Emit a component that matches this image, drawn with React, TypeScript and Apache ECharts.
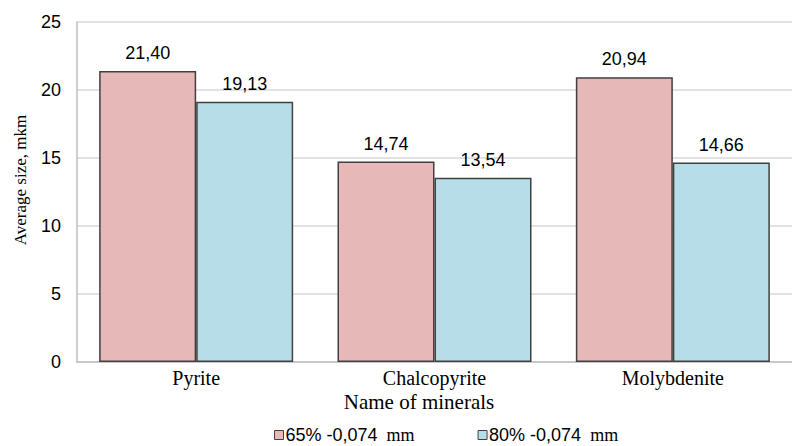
import React, { useEffect, useRef } from "react";
import * as echarts from "echarts";

const categories = ["Pyrite", "Chalcopyrite", "Molybdenite"];
const series65 = [21.4, 14.74, 20.94];
const series80 = [19.13, 13.54, 14.66];
const seriesNames = ["65% -0,074", "80% -0,074"];
const legendUnit = "mm";
const yTicks = [0, 5, 10, 15, 20, 25];
const yTitle = "Average size, mkm";
const xTitle = "Name of minerals";

export default function App() {
  const ref = useRef<HTMLDivElement>(null);
  useEffect(() => {
    if (!ref.current) return;
    const chart = echarts.init(ref.current, null, { renderer: "svg" });
    const labelCfg = {
      show: true,
      position: "top",
      distance: 9,
      color: "#000",
      fontFamily: "Liberation Sans",
      fontSize: 18,
      formatter: (p: any) => p.value.toFixed(2).replace(".", ","),
    };
    chart.setOption({
      animation: false,
      backgroundColor: "#fff",
      grid: { left: 77, top: 22, right: -8, bottom: 84 },
      legend: {
        left: 274,
        top: 426,
        padding: 0,
        icon: "rect",
        itemWidth: 9,
        itemHeight: 9,
        itemGap: 63,
        itemStyle: { borderColor: "#404040", borderWidth: 1 },
        formatter: (name: string) => `{a|${name}}{b|  ${legendUnit}}`,
        textStyle: {
          padding: [0, 0, 0, -3],
          rich: {
            a: { fontFamily: "Liberation Sans", fontSize: 18, color: "#000", lineHeight: 18 },
            b: { fontFamily: "Liberation Serif", fontSize: 18, color: "#000", lineHeight: 18 },
          },
        },
        data: seriesNames,
      },
      xAxis: {
        type: "category",
        data: categories,
        axisLine: { show: true, lineStyle: { color: "#bfbfbf", width: 1.5 } },
        axisTick: { show: false },
        axisLabel: { fontFamily: "Liberation Serif", fontSize: 20, color: "#000", margin: 6 },
      },
      yAxis: {
        type: "value",
        min: yTicks[0],
        max: yTicks[yTicks.length - 1],
        interval: yTicks[1] - yTicks[0],
        axisLine: { show: true, lineStyle: { color: "#bfbfbf", width: 1.5 } },
        axisTick: { show: false },
        splitLine: { lineStyle: { color: "#d9d9d9", width: 1.5 } },
        axisLabel: { fontFamily: "Liberation Sans", fontSize: 18, color: "#000", margin: 16 },
      },
      graphic: [
        {
          type: "text",
          x: 20,
          y: 180,
          rotation: Math.PI / 2,
          style: {
            text: yTitle,
            fontFamily: "Liberation Serif",
            fontSize: 17,
            fill: "#000",
            align: "center",
            verticalAlign: "middle",
          },
        },
        {
          type: "text",
          x: 419,
          y: 402,
          style: {
            text: xTitle,
            fontFamily: "Liberation Serif",
            fontSize: 21,
            fill: "#000",
            align: "center",
            verticalAlign: "middle",
          },
        },
      ],
      series: [
        {
          name: seriesNames[0],
          type: "bar",
          data: series65,
          barWidth: 97,
          barGap: "0%",
          itemStyle: { color: "#e6b8b7", borderColor: "#404040", borderWidth: 1.5 },
          label: labelCfg,
        },
        {
          name: seriesNames[1],
          type: "bar",
          data: series80,
          barWidth: 97,
          barGap: "0%",
          itemStyle: { color: "#b7dee8", borderColor: "#404040", borderWidth: 1.5 },
          label: labelCfg,
        },
      ],
    });
    return () => chart.dispose();
  }, []);
  return <div ref={ref} style={{ width: 792, height: 446, position: "absolute", left: 0, top: 0 }} />;
}
